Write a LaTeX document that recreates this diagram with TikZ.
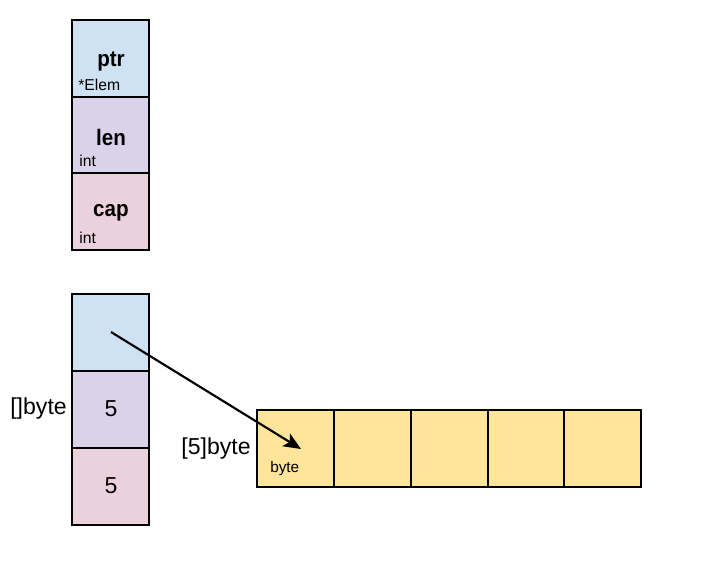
\documentclass[tikz,border=0pt]{standalone}
\usepackage{fontspec}
\setmainfont{Liberation Sans}
\newfontfamily\condbold[FakeStretch=0.92]{Liberation Sans Bold}
\usetikzlibrary{arrows.meta}
\definecolor{cblue}{HTML}{CFE2F3}
\definecolor{cpurple}{HTML}{D9D2E9}
\definecolor{cpink}{HTML}{EAD1DC}
\definecolor{cyellow}{HTML}{FFE599}
\begin{document}
\begin{tikzpicture}[x=0.75pt,y=-0.75pt,
  cell/.style={draw=black,line width=1.5pt,minimum width=57.75pt,minimum height=57.5pt,inner sep=0pt,outer sep=0pt},
  big/.style={font=\fontsize{17.3}{19}\selectfont},
  bigb/.style={font=\fontsize{16.8}{19}\condbold},
  small/.style={font=\fontsize{11.8}{13}\selectfont,inner sep=0pt},
  tiny/.style={font=\fontsize{11.5}{13}\selectfont,inner sep=0pt}]
\useasboundingbox (0,0) rectangle (725,576);
% top stack
\node[cell,fill=cblue,anchor=north west] (p) at (72,20) {};
\node[cell,fill=cpurple,anchor=north west] (l) at (72,97) {};
\node[cell,fill=cpink,anchor=north west] (c) at (72,173) {};
\node[bigb] (pt) at (111,62) {ptr};
\node[small,anchor=west] (pe) at (78,85) {*Elem};
\node[bigb] (lt) at (111,137) {len};
\node[small,anchor=west] (li) at (79,161) {int};
\node[bigb] (ct) at (111,213) {cap};
\node[small,anchor=west] (ci) at (79,238) {int};
% bottom stack
\node[cell,fill=cblue,anchor=north west] (bp) at (72,294) {};
\node[cell,fill=cpurple,anchor=north west] (bl) at (72,371) {};
\node[cell,fill=cpink,anchor=north west] (bc) at (72,448) {};
\node[big] (bl5) at (111,409) {5};
\node[big] (bc5) at (111,486) {5};
\node[big,anchor=east,inner sep=0pt] (sl) at (67,409) {[]byte};
% array
\node[cell,fill=cyellow,anchor=north west] (a1) at (257,410) {};
\node[cell,fill=cyellow,anchor=north west] (a2) at (334,410) {};
\node[cell,fill=cyellow,anchor=north west] (a3) at (411,410) {};
\node[cell,fill=cyellow,anchor=north west] (a4) at (488,410) {};
\node[cell,fill=cyellow,anchor=north west] (a5) at (564,410) {};
\node[big,anchor=east,inner sep=0pt] (al) at (251,449) {[5]byte};
\node[tiny,anchor=west] (ab) at (270,469) {byte};
% pointer
\coordinate (s) at (111,332);
\coordinate (e) at (301,449);
\draw[line width=1.6pt,-{Stealth[length=13pt,width=11pt,inset=3pt]}] (s) -- (e);
\end{tikzpicture}
\end{document}
